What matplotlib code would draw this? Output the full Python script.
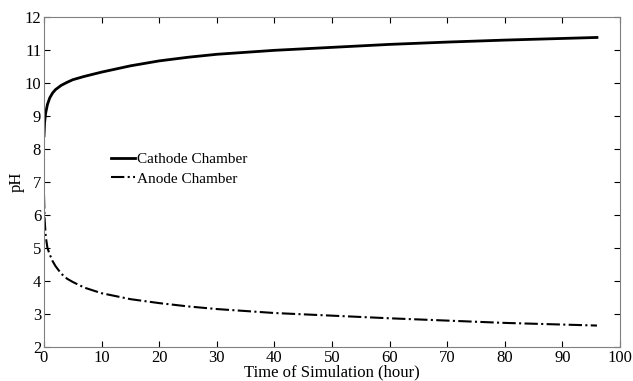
import numpy as np
from matplotlib import pyplot as plt

plt.rcParams['font.family'] = ['Liberation Serif', 'DejaVu Serif']

# time (hour) and pH
t_cat = [0, 0.1, 0.3, 0.6, 1, 1.5, 2, 3, 4, 5, 7, 10, 15, 20, 25, 30, 40, 50, 60, 70, 80, 90, 96]
ph_cat = [8.4, 8.8, 9.1, 9.35, 9.55, 9.7, 9.8, 9.93, 10.02, 10.1, 10.2, 10.33, 10.52, 10.67, 10.78, 10.87,
          10.99, 11.08, 11.17, 11.24, 11.3, 11.35, 11.38]
t_an = [0, 0.1, 0.3, 0.6, 1, 1.5, 2, 3, 4, 5, 7, 10, 15, 20, 25, 30, 40, 50, 60, 70, 80, 90, 96]
ph_an = [6.6, 5.9, 5.35, 5.0, 4.8, 4.6, 4.45, 4.22, 4.07, 3.97, 3.8, 3.63, 3.45, 3.33, 3.23, 3.15,
         3.03, 2.95, 2.87, 2.8, 2.73, 2.68, 2.65]

fig = plt.figure(figsize=(6.33, 3.81), dpi=100)
ax = fig.add_axes([44/633, 34/381, 576/633, 330/381])
ax.plot(t_cat, ph_cat, 'k-', lw=2, label='Cathode Chamber')
ax.plot(t_an, ph_an, 'k-.', lw=1.5, label='Anode Chamber')
ax.set_xlim(0, 100)
ax.set_ylim(2, 12)
ax.set_xticks(range(0, 101, 10))
ax.set_yticks(range(2, 13))
ax.tick_params(direction='in', labelsize=12, top=True, right=True, length=4, width=0.8, pad=2)
ax.set_xlabel('Time of Simulation (hour)', fontsize=12, labelpad=-1)
ax.set_ylabel('pH', fontsize=12, labelpad=0)
ax.legend(loc='upper left', bbox_to_anchor=(0.105, 0.608), frameon=False, fontsize=11,
          handlelength=1.6, handletextpad=0.1, labelspacing=0.38, borderaxespad=0)
for s in ax.spines.values():
    s.set_color('#808080')
fig.savefig('out.png', dpi=100)
